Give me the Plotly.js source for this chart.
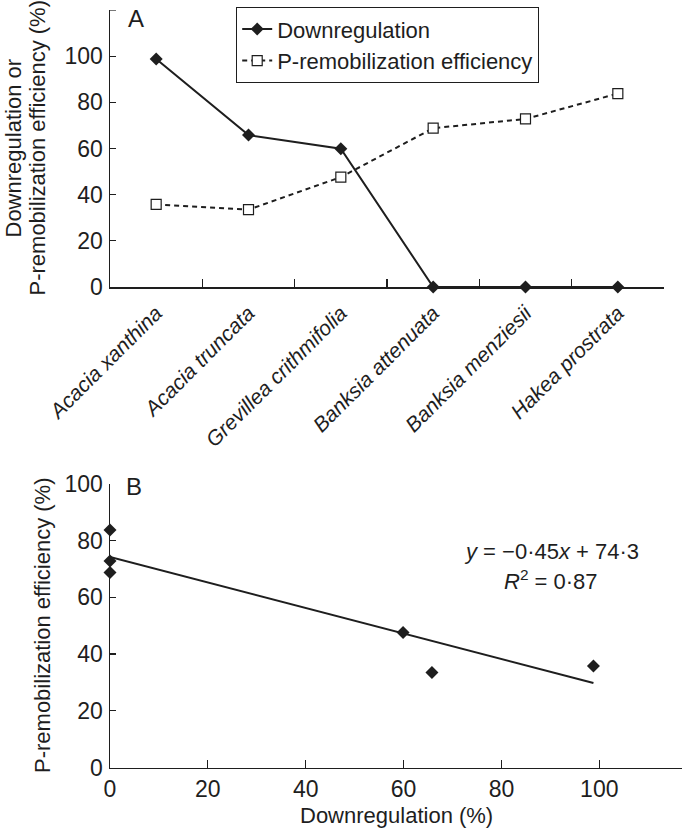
<!DOCTYPE html>
<html>
<head>
<meta charset="utf-8">
<script src="https://cdn.plot.ly/plotly-3.0.1.min.js"></script>
<style>html,body{margin:0;padding:0;background:#fff;}#chart{width:682px;height:829px;}</style>
</head>
<body>
<div id="chart"></div>
<script>
// ---- data ----
const species = ["Acacia xanthina", "Acacia truncata", "Grevillea crithmifolia", "Banksia attenuata", "Banksia menziesii", "Hakea prostrata"];
const downregulation = [98.8, 65.8, 59.9, 0, 0, 0];
const premobilization = [35.8, 33.5, 47.6, 68.8, 72.8, 83.8];
const fitX = [0, 98.8];
const fitY = [74.3, 29.8];
const yTicksA = [0, 20, 40, 60, 80, 100];
const xTicksB = [0, 20, 40, 60, 80, 100];
const yTicksB = [0, 20, 40, 60, 80, 100];

const W = 682, H = 829;
const px = v => v / W;
const py = v => 1 - v / H;
const FONT = "Liberation Sans, Arial, Helvetica, sans-serif";
const INK = "#1e1e1e";

const traces = [
  {
    x: species, y: downregulation, xaxis: "x", yaxis: "y",
    type: "scatter", mode: "lines+markers", name: "Downregulation",
    line: {color: INK, width: 2},
    marker: {symbol: "diamond", size: 10, color: INK},
    cliponaxis: false, legendgroup: "a"
  },
  {
    x: species, y: premobilization, xaxis: "x", yaxis: "y",
    type: "scatter", mode: "lines+markers", name: "P-remobilization efficiency",
    line: {color: INK, width: 2, dash: "5px,4px"},
    marker: {symbol: "square", size: 10, color: "#fff", line: {color: INK, width: 1.2}},
    cliponaxis: false, legendgroup: "b"
  },
  {
    x: fitX, y: fitY, xaxis: "x2", yaxis: "y2",
    type: "scatter", mode: "lines", showlegend: false,
    line: {color: INK, width: 2}
  },
  {
    x: downregulation, y: premobilization, xaxis: "x2", yaxis: "y2",
    type: "scatter", mode: "markers", showlegend: false,
    marker: {symbol: "diamond", size: 10, color: INK},
    cliponaxis: false
  }
];

const axCommon = {
  showline: true, linecolor: INK, linewidth: 1.5, showgrid: false, zeroline: false,
  ticks: "inside", tickcolor: INK, tickwidth: 1.2, automargin: false,
  tickfont: {family: FONT, size: 23, color: INK}
};

const layout = {
  width: W, height: H,
  margin: {l: 0, r: 0, t: 0, b: 0},
  paper_bgcolor: "#fff", plot_bgcolor: "#fff",
  font: {family: FONT, size: 22, color: INK},
  showlegend: true,
  legend: {
    x: px(236), y: py(7), xanchor: "left", yanchor: "top",
    bordercolor: INK, borderwidth: 1.2, bgcolor: "#fff",
    font: {family: FONT, size: 22, color: INK},
    traceorder: "grouped", tracegroupgap: 0
  },
  xaxis: Object.assign({}, axCommon, {
    domain: [px(110), px(664)], anchor: "y",
    type: "category", range: [-0.5, 5.5], tickson: "boundaries", ticklen: 8,
    tickangle: -45, ticklabelstandoff: 4,
    tickfont: {family: FONT, size: 21, color: INK, style: "italic"}
  }),
  yaxis: Object.assign({}, axCommon, {
    domain: [py(287), py(10)], anchor: "x",
    range: [0, 120], tickvals: yTicksA, ticklen: 6,
    ticklabelstandoff: 1
  }),
  xaxis2: Object.assign({}, axCommon, {
    domain: [px(110), 1], anchor: "y2",
    range: [0, 116.9], tickvals: xTicksB, ticklen: 8
  }),
  yaxis2: Object.assign({}, axCommon, {
    domain: [py(767.5), py(484)], anchor: "x2",
    range: [0, 100], tickvals: yTicksB, ticklen: 6,
    ticklabelstandoff: 1
  }),
  shapes: [
    // unlabeled top tick of panel A's y axis at 120
    {type: "line", xref: "x domain", yref: "y", x0: 0, x1: 6 / 554, y0: 120, y1: 120,
     line: {color: INK, width: 1.2}}
  ],
  annotations: [
    {text: "A", xref: "paper", yref: "paper", x: px(136), y: py(18), showarrow: false,
     font: {family: FONT, size: 24, color: INK}, xanchor: "center", yanchor: "middle"},
    {text: "B", xref: "paper", yref: "paper", x: px(134), y: py(486), showarrow: false,
     font: {family: FONT, size: 24, color: INK}, xanchor: "center", yanchor: "middle"},
    {text: "Downregulation or", xref: "paper", yref: "paper", x: px(13), y: py(148.5), showarrow: false,
     textangle: -90, font: {family: FONT, size: 22, color: INK}, xanchor: "center", yanchor: "middle"},
    {text: "P-remobilization efficiency (%)", xref: "paper", yref: "paper", x: px(37), y: py(148.5), showarrow: false,
     textangle: -90, font: {family: FONT, size: 22, color: INK}, xanchor: "center", yanchor: "middle"},
    {text: "P-remobilization efficiency (%)", xref: "paper", yref: "paper", x: px(42), y: py(626), showarrow: false,
     textangle: -90, font: {family: FONT, size: 22, color: INK}, xanchor: "center", yanchor: "middle"},
    {text: "Downregulation (%)", xref: "paper", yref: "paper", x: px(396), y: py(815), showarrow: false,
     font: {family: FONT, size: 22, color: INK}, xanchor: "center", yanchor: "middle"},
    {text: "<i>y</i> = \u22120\u00b745<i>x</i> + 74\u00b73", xref: "paper", yref: "paper", x: px(551), y: py(551), showarrow: false,
     font: {family: FONT, size: 22, color: INK}, xanchor: "center", yanchor: "middle"},
    {text: "<i>R</i><sup>2</sup> = 0\u00b787", xref: "paper", yref: "paper", x: px(551), y: py(580), showarrow: false,
     font: {family: FONT, size: 22, color: INK}, xanchor: "center", yanchor: "middle"}
  ]
};

Plotly.newPlot("chart", traces, layout, {staticPlot: true, displayModeBar: false});
</script>
</body>
</html>
